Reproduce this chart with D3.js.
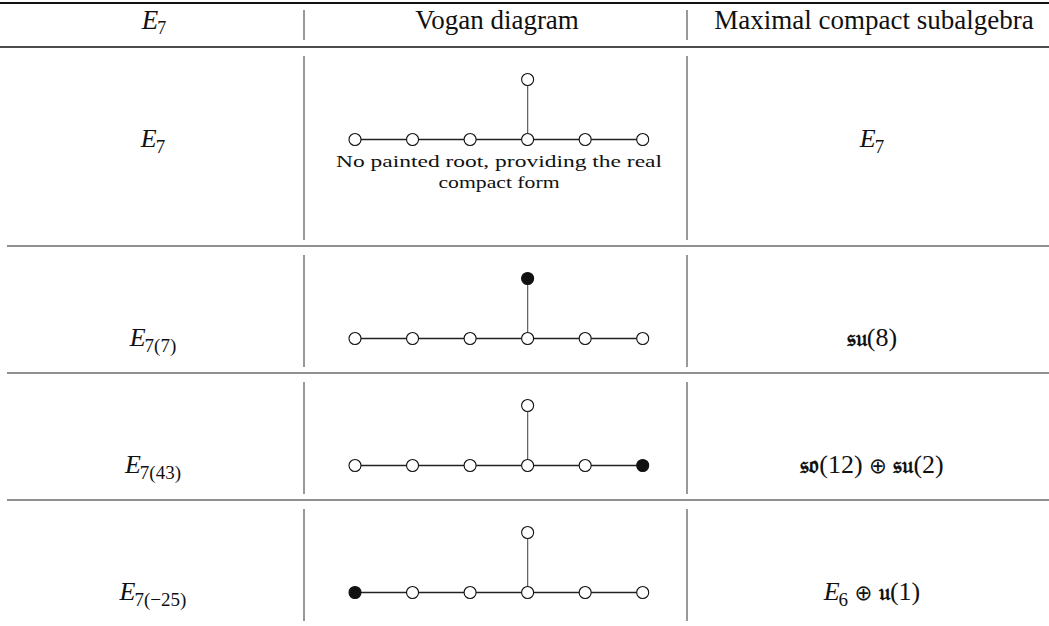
<!DOCTYPE html>
<html><head><meta charset="utf-8">
<script src="https://cdn.jsdelivr.net/npm/d3@7"></script>
<style>body{margin:0;background:#fff}svg{display:block}</style>
</head><body>
<svg id="c" width="1049" height="626"></svg>
<script>
// ---- data ----
const headers = ["E_7", "Vogan diagram", "Maximal compact subalgebra"];
const realForms = ["E_7", "E_{7(7)}", "E_{7(43)}", "E_{7(-25)}"];
const compactSubalgebras = ["E_7", "𝔰𝔲(8)", "𝔰𝔬(12) ⊕ 𝔰𝔲(2)", "E_6 ⊕ 𝔲(1)"];
// nodes 0..5 = chain, 6 = branch node attached to node 3
const dynkinNodes = [0, 1, 2, 3, 4, 5, 6];
const dynkinEdges = [[0,1],[1,2],[2,3],[3,4],[4,5],[3,6]];
const paintedNodes = [[], [6], [5], [0]];
const notes = [["No painted root, providing the real", "compact form"], [], [], []];

// ---- layout ----
const W = 1049;
const svg = d3.select("#c");
const rowTop = [47, 246, 373, 500];
const rowBottom = [246, 373, 500, 627];
const colSep = [304, 687];
const colCenter = [154, 497, 874];
const serif = "'Liberation Serif', 'DejaVu Serif', serif";
const frakFont = "'DejaVu Serif', 'DejaVu Sans', serif";

const xNode = d3.scaleLinear().domain([0, 5]).range([355, 642.7]);
const nodeX = i => i === 6 ? xNode(3) : xNode(i);
const nodeY = (r, i) => (rowTop[r] + 92.5) - (i === 6 ? 60 : 0);

// math text writer: "E_{7(7)}" -> italic E + subscript
function writeMath(sel, str, size, subSize, subDy) {
  const parts = str.split(/(_\{[^}]*\}|_.)/).filter(s => s.length);
  let shifted = 0;
  parts.forEach(p => {
    if (p[0] === "_") {
      const t = p.replace(/^_\{?/, "").replace(/\}$/, "").replace("-", "−");
      sel.append("tspan").attr("font-size", subSize).attr("font-style", "normal")
        .attr("dy", subDy - shifted).attr("dx", -1).text(t);
      shifted = subDy;
    } else {
      const runs = p.match(/[A-Za-z]+|[\u{1D504}-\u{1D59F}]+|⊕|[^A-Za-z\u{1D504}-\u{1D59F}⊕]+/gu);
      runs.forEach(run => {
        const isVar = /^[A-Z]$/.test(run);
        const isFrak = /[\u{1D504}-\u{1D59F}]/u.test(run);
        const ts = sel.append("tspan").attr("font-size", size)
          .attr("font-style", isVar ? "italic" : "normal")
          .text(run);
        if (isFrak) ts.attr("font-family", frakFont).attr("font-weight", "bold").attr("font-size", size * 0.9);
        if (run === "⊕") ts.attr("font-family", "'DejaVu Sans', sans-serif").attr("font-size", size * 0.82);
        if (shifted) { ts.attr("dy", -shifted); shifted = 0; }
      });
    }
  });
}

// ---- rules ----
svg.append("line").attr("x1", 0).attr("x2", W).attr("y1", 3).attr("y2", 3)
  .attr("stroke", "#111").attr("stroke-width", 2);
svg.append("line").attr("x1", 0).attr("x2", W).attr("y1", rowTop[0]).attr("y2", rowTop[0])
  .attr("stroke", "#111").attr("stroke-width", 1.6);
svg.selectAll("line.row").data(rowTop.slice(1)).join("line").attr("class", "row")
  .attr("x1", 7).attr("x2", W).attr("y1", d => d).attr("y2", d => d)
  .attr("stroke", "#222").attr("stroke-width", 1.2);

// vertical separators
const vSegs = [[10, 40]];
rowTop.forEach((t, r) => vSegs.push([t + 9, rowBottom[r] - 6]));
vSegs.forEach(([a, b]) => {
  colSep.forEach(x => {
    svg.append("line").attr("x1", x).attr("x2", x).attr("y1", a).attr("y2", b)
      .attr("stroke", "#555").attr("stroke-width", 1.2);
  });
});

// ---- header ----
headers.forEach((h, i) => {
  const t = svg.append("text").attr("x", colCenter[i]).attr("y", 29)
    .attr("text-anchor", "middle").attr("font-family", serif).attr("fill", "#111");
  writeMath(t, h, 27, 18, 5);
});

// ---- rows ----
realForms.forEach((f, r) => {
  const base = r === 0 ? 147 : rowTop[r] + 99.5;
  const t1 = svg.append("text").attr("x", colCenter[0] - 1).attr("y", base)
    .attr("text-anchor", "middle").attr("font-family", serif).attr("fill", "#111");
  writeMath(t1, f, 26, 19, 6);
  const t2 = svg.append("text").attr("x", 872).attr("y", base)
    .attr("text-anchor", "middle").attr("font-family", serif).attr("fill", "#111");
  writeMath(t2, compactSubalgebras[r], 26, 19, 6);

  const g = svg.append("g");
  g.selectAll("line").data(dynkinEdges).join("line")
    .attr("x1", d => nodeX(d[0])).attr("y1", d => nodeY(r, d[0]))
    .attr("x2", d => nodeX(d[1])).attr("y2", d => nodeY(r, d[1]))
    .attr("stroke", d => d[1] === 6 ? "#666" : "#222").attr("stroke-width", 1.3);
  g.selectAll("circle").data(dynkinNodes).join("circle")
    .attr("cx", d => nodeX(d)).attr("cy", d => nodeY(r, d)).attr("r", 6)
    .attr("fill", d => paintedNodes[r].includes(d) ? "#111" : "#fff")
    .attr("stroke", "#111").attr("stroke-width", 1.1);

  const nl = notes[r];
  const lens = [326, 121];
  nl.forEach((line, k) => {
    svg.append("text").attr("x", 499).attr("y", [166.5, 188][k])
      .attr("text-anchor", "middle").attr("font-family", serif).attr("font-size", 17.5)
      .attr("fill", "#111")
      .attr("textLength", lens[k]).attr("lengthAdjust", "spacingAndGlyphs")
      .text(line);
  });
});
</script>
</body></html>
